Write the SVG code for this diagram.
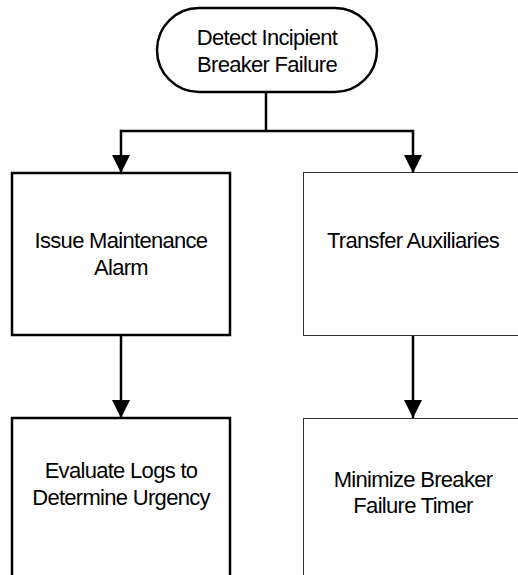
<svg xmlns="http://www.w3.org/2000/svg" width="518" height="575" viewBox="0 0 518 575">
<style>
.t{font-family:"Liberation Sans",Arial,sans-serif;font-size:22px;letter-spacing:-0.7px;fill:#000;text-anchor:middle}
.thick{fill:#fff;stroke:#000;stroke-width:2.5}
.thin{fill:#fff;stroke:#333;stroke-width:1}
.c{fill:none;stroke:#000;stroke-width:2.5}
</style>
<defs>
<marker id="ah" markerWidth="18" markerHeight="18" refX="18" refY="9" orient="auto" markerUnits="userSpaceOnUse" viewBox="0 0 18 18">
<path d="M0,0 L18,9 L0,18 Z" fill="#000"/>
</marker>
</defs>
<rect width="518" height="575" fill="#fff"/>
<g id="n1">
<rect class="thick" x="157" y="8" width="220" height="84" rx="42" ry="42"/>
<text class="t" x="267" y="45">Detect Incipient</text>
<text class="t" x="267" y="72">Breaker Failure</text>
</g>
<g id="n2">
<rect class="thick" x="12" y="173" width="218" height="162"/>
<text class="t" x="121" y="248">Issue Maintenance</text>
<text class="t" x="121" y="275">Alarm</text>
</g>
<g id="n3">
<rect class="thin" x="303.5" y="172.5" width="230" height="163"/>
<text class="t" x="413" y="248">Transfer Auxiliaries</text>
</g>
<g id="n4">
<rect class="thick" x="12" y="418" width="218" height="170"/>
<text class="t" x="121" y="478">Evaluate Logs to</text>
<text class="t" x="121" y="505">Determine Urgency</text>
</g>
<g id="n5">
<rect class="thin" x="303.5" y="418.5" width="230" height="170"/>
<text class="t" x="413" y="487">Minimize Breaker</text>
<text class="t" x="413" y="513">Failure Timer</text>
</g>
<g id="connectors">
<path class="c" d="M266,92 V131"/>
<path class="c" d="M266,131 H121 V173" marker-end="url(#ah)"/>
<path class="c" d="M266,131 H413 V173" marker-end="url(#ah)"/>
<path class="c" d="M121,335 V418" marker-end="url(#ah)"/>
<path class="c" d="M413,336 V418" marker-end="url(#ah)"/>
</g>
</svg>
